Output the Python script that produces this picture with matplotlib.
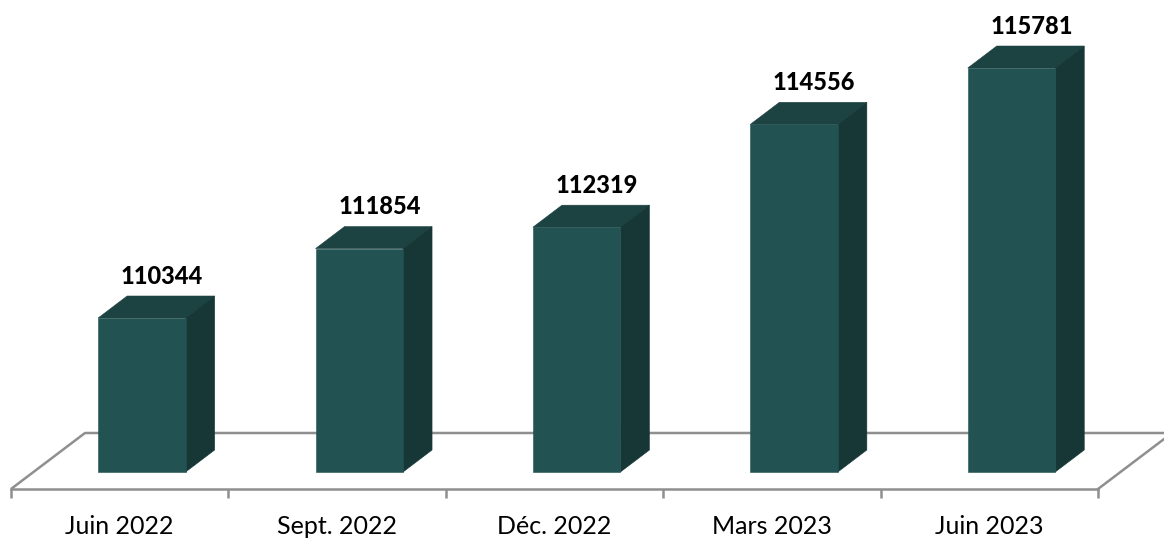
import numpy as np
import matplotlib
matplotlib.use("Agg")
import matplotlib.pyplot as plt
from matplotlib.patches import Polygon

categories = ["Juin 2022", "Sept. 2022", "Déc. 2022", "Mars 2023", "Juin 2023"]
values = [110344, 111854, 112319, 114556, 115781]

W, H = 1164, 540
FRONT, TOP, SIDE = "#225251", "#1c4241", "#163736"
GRID = "#8f8f8f"
plt.rcParams["font.family"] = ["Lato", "DejaVu Sans"]

fig = plt.figure(figsize=(W / 100, H / 100), dpi=100)
L, R, B = 11, 1098, 489
ax = fig.add_axes([L / W, (H - B) / H, (R - L) / W, B / H])
ax.patch.set_alpha(0)

px_x = 5 / (R - L)            # data units per pixel, x
px_y = 1 / 0.04598            # data units per pixel, y
ymin = 110344 - (B - 318) * px_y
ymax = 110344 + 318 * px_y
ax.set_xlim(-0.5, 4.5)
ax.set_ylim(ymin, ymax)

# floor of the 3D frame
fdx, fdy = 74 * px_x, 56 * px_y
ax.plot([-0.5, -0.5 + fdx, 4.5 + 2 * fdx], [ymin, ymin + fdy, ymin + fdy],
        color=GRID, lw=1.8, clip_on=False, zorder=1, solid_capstyle="butt")
ax.plot([4.5, 4.5 + 1.2 * fdx], [ymin, ymin + 1.2 * fdy],
        color=GRID, lw=1.8, clip_on=False, zorder=1)

# bars with depth
base = ymin + 17 * px_y
bw = 87.5 * px_x
shift = 22.2 * px_x
ddx, ddy = 29 * px_x, 22 * px_y
for i, v in enumerate(values):
    l, r = i + shift - bw / 2, i + shift + bw / 2
    ax.add_patch(Polygon([(l, v), (r, v), (r + ddx, v + ddy), (l + ddx, v + ddy)],
                         closed=True, fc=TOP, ec=TOP, lw=0.4, zorder=3))
    ax.add_patch(Polygon([(r, base), (r + ddx, base + ddy), (r + ddx, v + ddy), (r, v)],
                         closed=True, fc=SIDE, ec=SIDE, lw=0.4, zorder=3))
    ax.bar(i + shift, v - base, bottom=base, width=bw, color=FRONT,
           edgecolor=FRONT, linewidth=0.4, zorder=4)
    ax.annotate(str(v), (i + shift, v), xytext=(20, 42), textcoords="offset pixels",
                ha="center", va="center", fontsize=17, fontweight="black", color="black")

for s in ["top", "left", "right"]:
    ax.spines[s].set_visible(False)
ax.spines["bottom"].set_color(GRID)
ax.spines["bottom"].set_linewidth(1.8)
ax.set_yticks([])
ax.set_xticks(np.arange(-0.5, 5, 1))
ax.set_xticklabels([])
ax.tick_params(axis="x", which="major", length=6.5, width=1.8, color=GRID)
ax.set_xticks(np.arange(5), labels=categories, minor=True)
ax.tick_params(axis="x", which="minor", length=0, pad=18.5, labelsize=18, labelcolor="black")

fig.savefig("out.png", dpi=100)
